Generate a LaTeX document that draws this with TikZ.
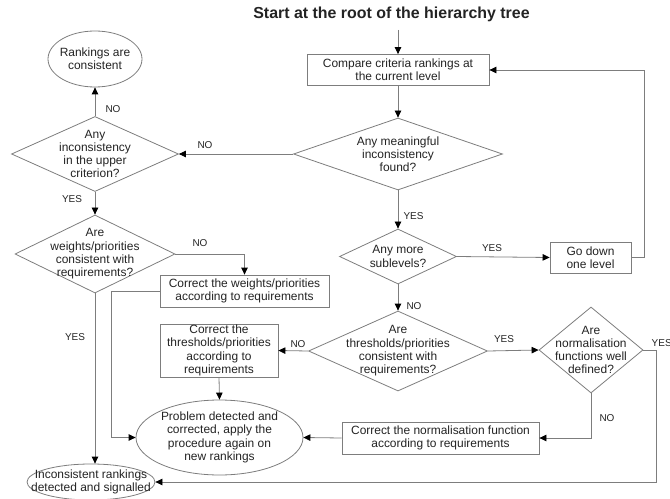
\documentclass[tikz,border=0pt]{standalone}
\usepackage{fontspec}
\setmainfont{Liberation Sans}
\usetikzlibrary{shapes.geometric,arrows.meta}
\definecolor{linec}{RGB}{125,125,125}
\definecolor{txtc}{RGB}{35,35,35}
\begin{document}
\begin{tikzpicture}[x=1bp,y=-1bp,
  txt/.style={text=txtc, font=\fontsize{12}{13.3}\selectfont, align=center, inner sep=0pt},
  shp/.style={draw=linec, line width=0.8bp, inner sep=0pt, txt},
  box/.style={shp, rectangle},
  dia/.style={shp, diamond},
  ell/.style={shp, ellipse},
  lab/.style={text=txtc, font=\fontsize{10}{12}\selectfont, inner sep=0pt},
  conn/.style={draw=linec, line width=0.8bp},
  arr/.style={conn, -{Triangle[black,length=7bp,width=6.5bp]}},
  ttl/.style={text=txtc, font=\fontsize{16}{19}\selectfont\bfseries, inner sep=0pt}
]
\useasboundingbox (0,0) rectangle (670,499);

% title and start
\node[ttl] (title) at (391.5,14) {Start at the root of the hierarchy tree};
\coordinate (start) at (398,30);

% main column
\node[box, minimum width=182bp, minimum height=31bp] (c1) at (398,70)
  {Compare criteria rankings at\\the current level};
\node[dia, minimum width=209bp, minimum height=72bp,
  label={[txt]center:{Any meaningful\\inconsistency\\found?}}] (d1) at (398,154) {};
\node[dia, minimum width=117bp, minimum height=55bp,
  label={[txt]center:{Any more\\sublevels?}}] (d2) at (398,256.5) {};
\node[box, minimum width=81bp, minimum height=31bp] (b2) at (590.5,257.5)
  {Go down\\one level};
\node[dia, minimum width=179bp, minimum height=80bp,
  label={[txt]center:{Are\\thresholds/priorities\\consistent with\\requirements?}}] (d3) at (398,351) {};
\node[dia, minimum width=104bp, minimum height=86bp,
  label={[txt]center:{Are\\normalisation\\functions well\\defined?}}] (d4) at (591,350) {};
\node[box, minimum width=118bp, minimum height=53bp] (b3) at (219,350.5)
  {Correct the\\thresholds/priorities\\according to\\requirements};
\node[box, minimum width=197bp, minimum height=32bp] (b4) at (440.5,438)
  {Correct the normalisation function\\according to requirements};

% left column
\node[ell, minimum width=94bp, minimum height=56bp,
  label={[txt]center:{Rankings are\\consistent}}] (e1) at (95,59) {};
\node[dia, minimum width=167bp, minimum height=75bp,
  label={[txt]center:{Any\\inconsistency\\in the upper\\criterion?}}] (dL1) at (95,154) {};
\node[dia, minimum width=160bp, minimum height=78bp,
  label={[txt]center:{Are\\weights/priorities\\consistent with\\requirements?}}] (dL2) at (95,254) {};
\node[box, minimum width=169bp, minimum height=32bp] (b1) at (244.5,291)
  {Correct the weights/priorities\\according to requirements};
\node[ell, minimum width=167bp, minimum height=75bp,
  label={[txt]center:{Problem detected and\\corrected, apply the\\procedure again on\\new rankings}}] (e2) at (219.5,437.5) {};
\node[ell, minimum width=128bp, minimum height=36bp,
  label={[txt]center:{Inconsistent rankings\\detected and signalled}}] (e3) at (91,482) {};

% connectors
\draw[arr] (start) -- (c1);
\draw[arr] (c1) -- (d1);
\draw[arr] (d1.west) -- (dL1.east);
\draw[arr] (dL1.north) -- (e1.south);
\draw[arr] (dL1.south) -- (dL2.north);
\draw[arr] (dL2.east) -| (b1.north);
\draw[arr] (b1.west) -- ++(-48,0) |- (e2.west);
\draw[arr] (dL2.south) -- (dL2.south |- e3.north);
\draw[arr] (d1.south) -- (d2.north);
\draw[arr] (d2.east) -- (b2.west);
\draw[arr] (b2.east) -- ++(12.5,0) |- (c1.east);
\draw[arr] (d2.south) -- (d3.north);
\draw[arr] (d3.west) -- (b3.east);
\draw[arr] (b3.south) -- (e2.north);
\draw[arr] (d3.east) -- (d4.west);
\draw[arr] (d4.south) |- (b4.east);
\draw[arr] (b4.west) -- (e2.east);
\draw[arr] (d4.east) -- ++(13,0) |- (e3.east);

% labels
\node[lab] (l1) at (205,145) {NO};
\node[lab] (l2) at (113,109) {NO};
\node[lab] (l3) at (72,199) {YES};
\node[lab] (l4) at (200,243) {NO};
\node[lab] (l5) at (75,337) {YES};
\node[lab] (l6) at (413.5,216) {YES};
\node[lab] (l7) at (492,248) {YES};
\node[lab] (l8) at (414,306) {NO};
\node[lab] (l9) at (298,344) {NO};
\node[lab] (l10) at (504,339) {YES};
\node[lab] (l11) at (607,418) {NO};
\node[lab, anchor=west] (l12) at (651.5,343) {YES};
\end{tikzpicture}
\end{document}
